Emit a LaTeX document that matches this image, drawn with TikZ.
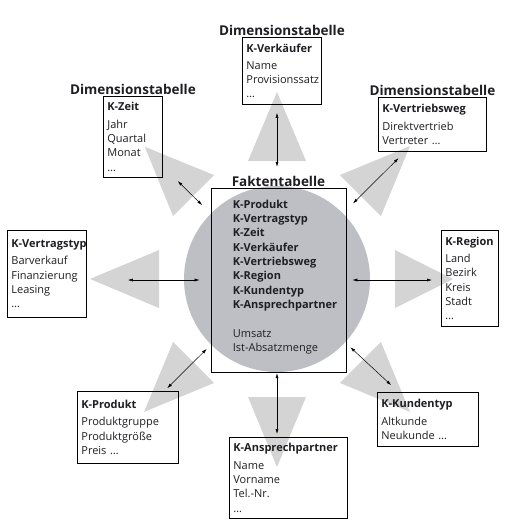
\documentclass[tikz,border=0pt]{standalone}
\usepackage{fontspec}
\setmainfont{Open Sans}
\usetikzlibrary{arrows.meta,positioning,calc}
\hyphenpenalty=10000
\exhyphenpenalty=10000

\definecolor{kreisgrau}{RGB}{190,191,196}
\definecolor{keilgrau}{RGB}{212,212,212}
\definecolor{schrift}{RGB}{30,30,35}

\tikzset{
  dimbox/.style={draw, line width=0.8pt, anchor=north west, inner xsep=4pt, inner ysep=0pt,
    align=left, font=\fontsize{11}{14.3}\selectfont},
  titel/.style={font=\bfseries\fontsize{13.5}{15}\selectfont, inner sep=1pt},
  keil/.style={fill=keilgrau},
  dbl/.style={{Latex[length=5pt,width=3pt]}-{Latex[length=5pt,width=3pt]}, line width=0.5pt},
}
\newcommand{\kopf}[1]{\textbf{#1}\\[3pt]}

\begin{document}
\begin{tikzpicture}[x=1pt,y=-1pt, every node/.append style={text=schrift}]
\useasboundingbox (0,0) rectangle (525,528);
\coordinate (mitte) at (277,279);

% keile
\foreach \w/\r in {0/176,45/188,90/187,135/187,180/187,225/188,270/188,315/188}
  \fill[keil] ($(mitte)+(\w:\r pt)$) -- ($(mitte)+(\w:118pt)+(\w+90:29pt)$)
    -- ($(mitte)+(\w:118pt)+(\w-90:29pt)$) -- cycle;

% faktentabelle
\node[circle, fill=kreisgrau, minimum size=186pt, inner sep=0pt] (kreis) at (mitte) {};
\node[draw, line width=0.8pt, minimum width=135pt, minimum height=184pt, inner sep=0pt] (fakt) at (278.5,280) {};
\node[titel, above=0pt of fakt] (ftitel) {Faktentabelle};
\node[anchor=west, align=left, inner sep=0pt, font=\bfseries\fontsize{11}{14.3}\selectfont] (liste)
  at ([xshift=22pt,yshift=3pt]fakt.west)
  {K-Produkt\\ K-Vertragstyp\\ K-Zeit\\ K-Verkäufer\\ K-Vertriebsweg\\ K-Region\\ K-Kundentyp\\
   K-Ansprechpartner\\[14.3pt] \mdseries Umsatz\\ \mdseries Ist-Absatzmenge};

% dimensionstabellen
\node[dimbox, text width=71pt, minimum height=67pt] (verk) at (242,37)
  {\kopf{K-Verkäufer} Name\\ Provisionssatz\\ \ldots};
\node[dimbox, text width=51pt, minimum height=81pt] (zeit) at (103,96)
  {\kopf{K-Zeit} Jahr\\ Quartal\\ Monat\\ \ldots};
\node[dimbox, text width=100pt, minimum height=54pt] (vweg) at (378,97)
  {\kopf{K-Vertriebsweg} Direktvertrieb\\ Vertreter \ldots};
\node[dimbox, text width=71pt, minimum height=87pt] (vtyp) at (7,230)
  {\kopf{K-Vertragstyp} Barverkauf\\ Finanzierung\\ Leasing\\ \ldots};
\node[dimbox, text width=49pt, minimum height=96pt] (region) at (441,230)
  {\kopf{K-Region} Land\\ Bezirk\\ Kreis\\ Stadt\\ \ldots};
\node[dimbox, text width=93pt, minimum height=72pt] (prod) at (77,391)
  {\kopf{K-Produkt} Produktgruppe\\ Produktgröße\\ Preis \ldots};
\node[dimbox, text width=110pt, minimum height=81pt] (ansp) at (229,437)
  {\kopf{K-Ansprechpartner} Name\\ Vorname\\ Tel.-Nr.\\ \ldots};
\node[dimbox, text width=93pt, minimum height=54pt] (kund) at (377,392)
  {\kopf{K-Kundentyp} Altkunde\\ Neukunde \ldots};

\node[titel, above=0pt of verk] (dverk) {Dimensionstabelle};
\node[titel, above=0pt of zeit] (dzeit) {Dimensionstabelle};
\node[titel, above=0pt of vweg] (dvweg) {Dimensionstabelle};

% verbindungen
\draw[dbl, shorten <=19pt, shorten >=8pt] (kreis) -- (kreis |- verk.south);
\draw[dbl, shorten <=1pt, shorten >=3pt] (kreis) -- (kreis |- ansp.north);
\draw[dbl, shorten <=11pt, shorten >=41pt] (fakt.west) -- (fakt.west -| vtyp.east);
\draw[dbl, shorten <=6pt, shorten >=9pt] (fakt.east) -- (fakt.east -| region.west);
\draw[dbl, shorten <=12pt, shorten >=21pt] (kreis) -- (zeit);
\draw[dbl, shorten <=14pt, shorten >=9pt] (kreis) -- (vweg);
\draw[dbl, shorten <=6pt, shorten >=4pt] (kreis) -- (prod);
\draw[dbl, shorten <=7pt, shorten >=10pt] (kreis) -- (kund);
\end{tikzpicture}
\end{document}
